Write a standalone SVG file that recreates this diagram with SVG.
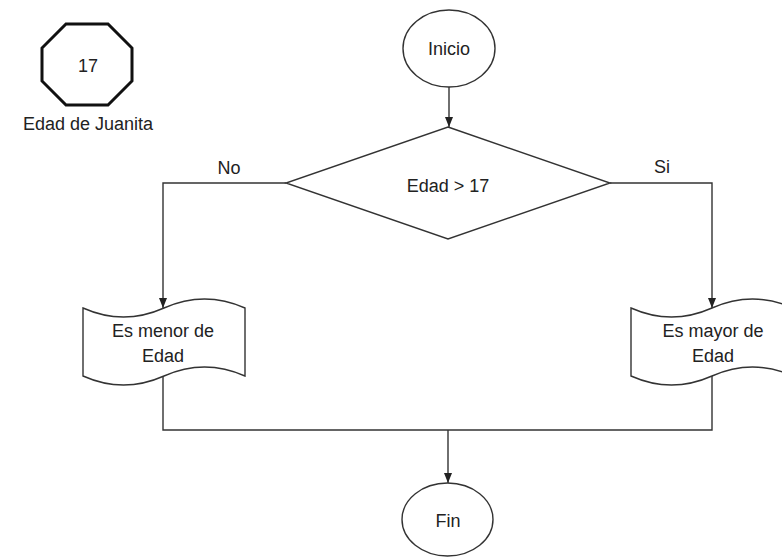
<svg xmlns="http://www.w3.org/2000/svg" width="782" height="557" viewBox="0 0 782 557">
<style>
.shape{fill:#fff;stroke:#333;stroke-width:1.4}
.conn{fill:none;stroke:#333;stroke-width:1.4}
text{font-family:"Liberation Sans",Arial,sans-serif;font-size:18px;fill:#222;text-anchor:middle}
</style>
<defs>
<marker id="arr" markerUnits="userSpaceOnUse" markerWidth="10" markerHeight="10" viewBox="0 0 10 10" refX="10" refY="5" orient="auto">
<path d="M0,1 L10,5 L0,9 Z" fill="#222"/>
</marker>
</defs>
<rect width="782" height="557" fill="#fff"/>
<g id="connectors">
<path class="conn" d="M449,87 L449,127" marker-end="url(#arr)"/>
<path class="conn" d="M286,183 L163,183 L163,308" marker-end="url(#arr)"/>
<path class="conn" d="M610,183 L712,183 L712,308" marker-end="url(#arr)"/>
<path class="conn" d="M163,376 L163,430 L712,430 L712,376"/>
<path class="conn" d="M448,430 L448,483" marker-end="url(#arr)"/>
<text x="229" y="174">No</text>
<text x="662" y="173">Si</text>
</g>
<g id="edad-juanita">
<polygon points="66,24 108,24 132,48 132,81 108,105 66,105 42,81 42,48" fill="#fff" stroke="#111" stroke-width="3"/>
<text x="88" y="72" font-size="17">17</text>
<text x="88" y="130" font-size="21.5">Edad de Juanita</text>
</g>
<g id="inicio">
<ellipse class="shape" cx="449" cy="48.5" rx="46" ry="38.5"/>
<text x="449" y="55">Inicio</text>
</g>
<g id="decision">
<polygon class="shape" points="448,127 610,183 448,239 286,183"/>
<text x="448" y="192" font-size="17">Edad &gt; 17</text>
</g>
<g id="menor">
<path class="shape" d="M83,308 Q123.5,326 164,308 Q204.5,290 245,308 L245,376 Q204.5,358 164,376 Q123.5,394 83,376 Z"/>
<text x="163" y="337">Es menor de</text>
<text x="163" y="362">Edad</text>
</g>
<g id="mayor">
<path class="shape" d="M631,308 Q671.5,326 712,308 Q752.5,290 793,308 L793,376 Q752.5,358 712,376 Q671.5,394 631,376 Z"/>
<text x="713" y="337">Es mayor de</text>
<text x="713" y="362">Edad</text>
</g>
<g id="fin">
<ellipse class="shape" cx="447.5" cy="519.5" rx="45.5" ry="36.5"/>
<text x="448" y="527">Fin</text>
</g>
</svg>
